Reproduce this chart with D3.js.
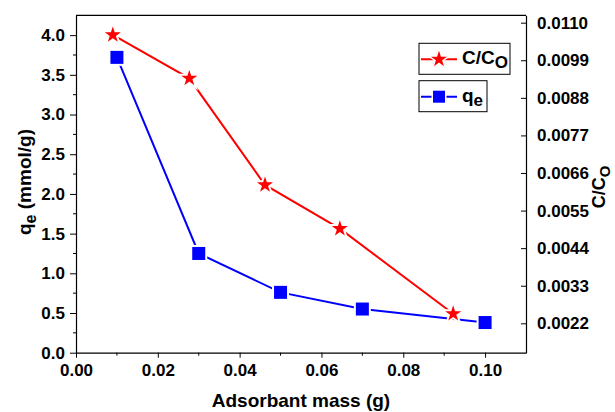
<!DOCTYPE html>
<html>
<head>
<meta charset="utf-8">
<script src="https://cdn.jsdelivr.net/npm/d3@7"></script>
<style>
  body { margin: 0; background: #fff; }
  text { font-family: "Liberation Sans", Arial, sans-serif; font-weight: bold; }
</style>
</head>
<body>
<div id="chart"></div>
<script>
// C/Co series (right axis)
const massC = [0.009, 0.0277, 0.0462, 0.0645, 0.0922]
const ratioC = [0.01064, 0.00937, 0.00625, 0.00497, 0.00248]
// qe series (left axis)
const massQ = [0.01, 0.03, 0.05, 0.07, 0.10]
const qe = [3.72, 1.25, 0.76, 0.55, 0.38]

const xTicks = [0, 0.02, 0.04, 0.06, 0.08, 0.10]
const xMinor = [0.01, 0.03, 0.05, 0.07, 0.09]
const yTicks = [0, 0.5, 1.0, 1.5, 2.0, 2.5, 3.0, 3.5, 4.0]
const yMinor = [0.25, 0.75, 1.25, 1.75, 2.25, 2.75, 3.25, 3.75]
const y2Ticks = [0.0022, 0.0033, 0.0044, 0.0055, 0.0066, 0.0077, 0.0088, 0.0099, 0.0110]

const W = 615, H = 412
const margin = {top: 15.3, right: 89, bottom: 59.3, left: 76}
const w = W - margin.left - margin.right,
      h = H - margin.top - margin.bottom

const svg = d3.select("#chart").append("svg")
    .attr("width", W).attr("height", H)

const g = svg.append("g")
    .attr("transform", `translate(${margin.left},${margin.top})`)

const x = d3.scaleLinear().domain([0, 0.11]).range([0, w])
const y = d3.scaleLinear().domain([0, 4.25]).range([h, 0])
const y2 = d3.scaleLinear().domain([0.00134, 0.011216]).range([h, 0])

const tickFont = "17px"

// bottom axis
const xAxis = g.append("g").attr("transform", `translate(0,${h})`)
    .call(d3.axisBottom(x).tickValues(xTicks).tickSize(5).tickSizeOuter(0).tickPadding(6)
        .tickFormat(d3.format(".2f")))
xAxis.append("g").selectAll("line").data(xMinor).join("line")
    .attr("x1", d => x(d)).attr("x2", d => x(d)).attr("y1", 0).attr("y2", 3)
    .attr("stroke", "#000")

// left axis
const yAxis = g.append("g")
    .call(d3.axisLeft(y).tickValues(yTicks).tickSize(6).tickSizeOuter(0).tickPadding(5)
        .tickFormat(d3.format(".1f")))
yAxis.append("g").selectAll("line").data(yMinor).join("line")
    .attr("y1", d => y(d)).attr("y2", d => y(d)).attr("x1", 0).attr("x2", -3)
    .attr("stroke", "#000")

// right axis, ticks inward
const y2Axis = g.append("g").attr("transform", `translate(${w},0)`)
    .call(d3.axisRight(y2).tickValues(y2Ticks).tickSize(-5).tickSizeOuter(0).tickPadding(11)
        .tickFormat(d3.format(".4f")))

// top frame line
g.append("line").attr("x1", 0).attr("x2", w).attr("y1", 0).attr("y2", 0)
    .attr("stroke", "#000").attr("stroke-width", 1.2)

g.selectAll(".domain").attr("stroke", "#000").attr("stroke-width", 1.2)
g.selectAll(".tick line").attr("stroke", "#000")
g.selectAll(".tick text").style("font-size", tickFont).attr("fill", "#000")
    .style("font-family", "'Liberation Sans', Arial, sans-serif").style("font-weight", "bold")

// lines
const lineC = d3.line().x((d, i) => x(massC[i])).y(d => y2(d))
const lineQ = d3.line().x((d, i) => x(massQ[i])).y(d => y(d))

g.append("path").datum(ratioC).attr("d", lineC)
    .attr("fill", "none").attr("stroke", "#ff0000").attr("stroke-width", 2)
g.append("path").datum(qe).attr("d", lineQ)
    .attr("fill", "none").attr("stroke", "#0000ff").attr("stroke-width", 2)

const star = d3.symbol().type(d3.symbolStar).size(80)

g.selectAll(".star").data(ratioC).join("path")
    .attr("class", "star")
    .attr("d", star)
    .attr("transform", (d, i) => `translate(${x(massC[i])},${y2(d)})`)
    .attr("fill", "#ff0000")
    .attr("stroke", "#fff").attr("stroke-width", 4)
    .style("paint-order", "stroke")

g.selectAll(".sq").data(qe).join("rect")
    .attr("class", "sq")
    .attr("x", (d, i) => x(massQ[i]) - 6.5)
    .attr("y", d => y(d) - 6.5)
    .attr("width", 13).attr("height", 13)
    .attr("fill", "#0000ff")
    .attr("stroke", "#fff").attr("stroke-width", 4)
    .style("paint-order", "stroke")

// axis titles
svg.append("text")
    .attr("x", margin.left + w / 2).attr("y", 407)
    .attr("text-anchor", "middle").style("font-size", "19px")
    .text("Adsorbant mass (g)")

const t1 = svg.append("text")
    .attr("transform", "translate(31,182) rotate(-90)")
    .attr("text-anchor", "middle").style("font-size", "19px")
t1.append("tspan").text("q")
t1.append("tspan").attr("dy", 5).style("font-size", "16px").text("e")
t1.append("tspan").attr("dy", -5).text(" (mmol/g)")

const t2 = svg.append("text")
    .attr("transform", "translate(605,187) rotate(-90)")
    .attr("text-anchor", "middle").style("font-size", "18px")
t2.append("tspan").text("C/C")
t2.append("tspan").attr("dy", 5).style("font-size", "15px").text("O")

// legend
const legend = [
  {label: "C", sub: "O", color: "#ff0000", kind: "star", x0: 419, y0: 43.3, bw: 91},
  {label: "q", sub: "e", color: "#0000ff", kind: "sq", x0: 419, y0: 80.7, bw: 68}
]
legend.forEach(d => {
  const lg = svg.append("g").attr("transform", `translate(${d.x0},${d.y0})`)
  lg.append("rect").attr("width", d.bw).attr("height", 31)
      .attr("fill", "#fff").attr("stroke", "#000").attr("stroke-width", 1)
  lg.append("line").attr("x1", 2).attr("x2", 38).attr("y1", 16).attr("y2", 16)
      .attr("stroke", d.color).attr("stroke-width", 2)
  if (d.kind === "star") {
    lg.append("path").attr("d", star).attr("transform", "translate(20,16)")
        .attr("fill", d.color).attr("stroke", "#fff").attr("stroke-width", 3)
        .style("paint-order", "stroke")
  } else {
    lg.append("rect").attr("x", 14).attr("y", 10).attr("width", 12).attr("height", 12)
        .attr("fill", d.color).attr("stroke", "#fff").attr("stroke-width", 3)
        .style("paint-order", "stroke")
  }
  const tx = lg.append("text").attr("x", 43).attr("y", 21).style("font-size", "19px")
  tx.append("tspan").text(d.kind === "star" ? "C/C" : "q")
  tx.append("tspan").attr("dy", 4).style("font-size", "17px").text(d.sub)
})
</script>
</body>
</html>
